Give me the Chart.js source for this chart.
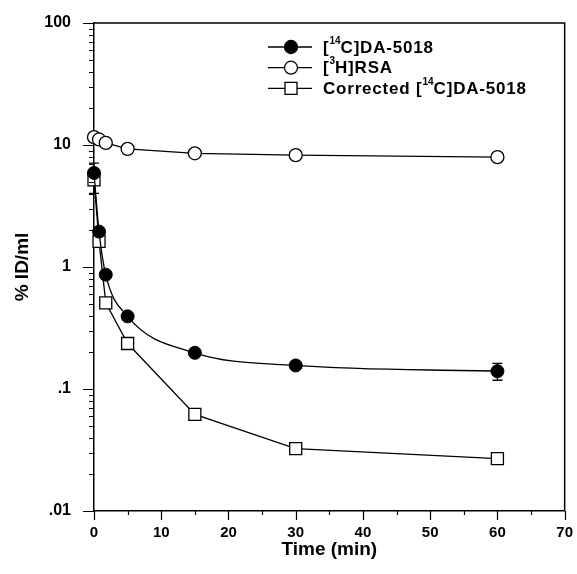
<!DOCTYPE html>
<html>
<head>
<meta charset="utf-8">
<script src="https://cdn.jsdelivr.net/npm/chart.js@4.4.1/dist/chart.umd.min.js"></script>
<style>
html, body { margin: 0; padding: 0; background: #fff; }
#wrap { width: 577px; height: 574px; position: relative; }
</style>
</head>
<body>
<div id="wrap"><canvas id="chart"></canvas></div>
<script>
// 図から読み取った値
const times = [0, 0.75, 1.75, 5, 15, 30, 60];
const da5018 = [5.9, 1.95, 0.865, 0.394, 0.198, 0.156, 0.14];
const da5018Err = [1.2, 0, 0, 0, 0, 0, 0.022];
const rsa = [11.6, 11.1, 10.4, 9.3, 8.55, 8.26, 7.95];
const corrected = [5.17, 1.62, 0.508, 0.236, 0.062, 0.0325, 0.0269];
const correctedErr = [1.15, 0, 0, 0, 0, 0, 0];

const xTicks = [0, 10, 20, 30, 40, 50, 60, 70];
const yDecades = [0.01, 0.1, 1, 10, 100];
const yLabels = ['.01', '.1', '1', '10', '100'];

const legendLabels = [
    [['[', 0], ['14', 1], ['C]DA-5018', 0]],
    [['[', 0], ['3', 1], ['H]RSA', 0]],
    [['Corrected [', 0], ['14', 1], ['C]DA-5018', 0]]
];

// 目盛り（主・副）
const xTickAll = [];
for (let v = 0; v <= 70; v += 5) xTickAll.push(v);
const yTickAll = [];
yDecades.forEach((d, i) => {
    yTickAll.push(d);
    if (i < yDecades.length - 1) {
        for (let k = 2; k <= 9; k++) yTickAll.push(+(d * k).toPrecision(3));
    }
});

const FONT = "'Liberation Sans', Arial, sans-serif";

/**
 * 誤差棒を描画
 */
const errorBars = {
    id: 'errorBars',
    beforeDatasetsDraw(chart) {
        const { ctx, scales: { x, y } } = chart;
        ctx.save();
        ctx.strokeStyle = '#000';
        ctx.lineWidth = 1.3;
        [[da5018, da5018Err], [corrected, correctedErr]].forEach(([vals, errs]) => {
            vals.forEach((v, i) => {
                const e = errs[i];
                if (!e) return;
                const px = x.getPixelForValue(times[i]);
                const top = y.getPixelForValue(v + e);
                const bot = y.getPixelForValue(v - e);
                ctx.beginPath();
                ctx.moveTo(px, top); ctx.lineTo(px, bot);
                ctx.moveTo(px - 5, top); ctx.lineTo(px + 5, top);
                ctx.moveTo(px - 5, bot); ctx.lineTo(px + 5, bot);
                ctx.stroke();
            });
        });
        ctx.restore();
    }
};

/**
 * 目盛り線と枠
 */
const frame = {
    id: 'frame',
    afterDraw(chart) {
        const { ctx, chartArea: a, scales: { x, y } } = chart;
        ctx.save();
        ctx.strokeStyle = '#000';
        ctx.lineWidth = 1.2;
        ctx.beginPath();
        y.ticks.forEach(t => {
            const py = Math.round(y.getPixelForValue(t.value)) + 0.5;
            const len = yDecades.includes(t.value) ? 11 : 5;
            ctx.moveTo(a.left - len, py);
            ctx.lineTo(a.left, py);
        });
        x.ticks.forEach(t => {
            const px = Math.round(x.getPixelForValue(t.value)) + 0.5;
            const len = t.value % 10 === 0 ? 9 : 4;
            ctx.moveTo(px, a.bottom);
            ctx.lineTo(px, a.bottom + len);
        });
        ctx.stroke();
        ctx.lineWidth = 1.5;
        ctx.beginPath();
        ctx.moveTo(a.left, a.top);
        ctx.lineTo(a.right, a.top);
        ctx.lineTo(a.right, a.bottom);
        ctx.stroke();
        ctx.restore();
    }
};

/**
 * 凡例（上付き文字つき）
 */
const legendBox = {
    id: 'legendBox',
    afterDraw(chart) {
        const { ctx } = chart;
        const x0 = 268, x1 = 312, xm = 291, xt = 323;
        ctx.save();
        ctx.strokeStyle = '#000';
        ctx.lineWidth = 1.3;
        ctx.textBaseline = 'middle';
        ctx.fillStyle = '#000';
        legendLabels.forEach((parts, i) => {
            const yy = 47 + i * 20.7;
            ctx.beginPath();
            ctx.moveTo(x0, yy); ctx.lineTo(x1, yy);
            ctx.stroke();
            ctx.beginPath();
            if (i === 2) {
                ctx.rect(xm - 6, yy - 6, 12, 12);
            } else {
                ctx.arc(xm, yy, 6.5, 0, Math.PI * 2);
            }
            ctx.fillStyle = i === 0 ? '#000' : '#fff';
            ctx.fill();
            ctx.stroke();
            ctx.fillStyle = '#000';
            let cx = xt;
            parts.forEach(([txt, sup]) => {
                ctx.font = sup ? `bold 10px ${FONT}` : `bold 17px ${FONT}`;
                ctx.letterSpacing = sup ? '0px' : '0.8px';
                ctx.fillText(txt, cx, sup ? yy - 6 : yy + 1);
                cx += ctx.measureText(txt).width;
            });
        });
        ctx.restore();
    }
};

const ctx = document.getElementById('chart').getContext('2d');
new Chart(ctx, {
    type: 'line',
    data: {
        datasets: [
            {
                label: '[14C]DA-5018',
                data: times.map((t, i) => ({ x: t, y: da5018[i] })),
                borderColor: '#000',
                borderWidth: 1.3,
                pointBackgroundColor: '#000',
                pointBorderColor: '#000',
                pointRadius: 6.5,
                pointBorderWidth: 1,
                cubicInterpolationMode: 'monotone',
                clip: false
            },
            {
                label: '[3H]RSA',
                data: times.map((t, i) => ({ x: t, y: rsa[i] })),
                borderColor: '#000',
                borderWidth: 1.3,
                pointBackgroundColor: '#fff',
                pointBorderColor: '#000',
                pointRadius: 6.5,
                pointBorderWidth: 1.3,
                tension: 0,
                clip: false
            },
            {
                label: 'Corrected [14C]DA-5018',
                data: times.map((t, i) => ({ x: t, y: corrected[i] })),
                borderColor: '#000',
                borderWidth: 1.3,
                pointStyle: 'rect',
                pointBackgroundColor: '#fff',
                pointBorderColor: '#000',
                pointRadius: 8.5,
                pointBorderWidth: 1.3,
                tension: 0,
                clip: false
            }
        ]
    },
    options: {
        responsive: true,
        maintainAspectRatio: false,
        animation: false,
        events: [],
        layout: { padding: { left: 0, right: 11, top: 23, bottom: 0 } },
        plugins: {
            legend: { display: false },
            tooltip: { enabled: false }
        },
        scales: {
            x: {
                type: 'linear',
                min: 0,
                max: 70,
                afterBuildTicks: s => { s.ticks = xTickAll.map(v => ({ value: v })); },
                afterFit: s => { s.height = 63; },
                grid: { drawOnChartArea: false, tickLength: 9, tickColor: 'rgba(0,0,0,0)' },
                border: { color: '#000', width: 1.5 },
                ticks: {
                    autoSkip: false,
                    maxRotation: 0,
                    padding: 4,
                    color: '#000',
                    font: { family: FONT, size: 15, weight: 'bold' },
                    callback: v => xTicks.includes(v) ? String(v) : ''
                },
                title: {
                    display: true,
                    text: 'Time (min)',
                    color: '#000',
                    font: { family: FONT, size: 19, weight: 'bold' },
                    padding: { top: 0, bottom: 13 }
                }
            },
            y: {
                type: 'logarithmic',
                min: 0.01,
                max: 100,
                afterBuildTicks: s => { s.ticks = yTickAll.map(v => ({ value: v })); },
                afterFit: s => { s.width = 94; },
                grid: { drawOnChartArea: false, tickLength: 11, tickColor: 'rgba(0,0,0,0)' },
                border: { color: '#000', width: 1.5 },
                ticks: {
                    autoSkip: false,
                    padding: 12,
                    color: '#000',
                    font: { family: FONT, size: 16, weight: 'bold' },
                    callback: v => {
                        const i = yDecades.indexOf(v);
                        return i >= 0 ? yLabels[i] : '';
                    }
                },
                title: {
                    display: true,
                    text: '% ID/ml',
                    color: '#000',
                    font: { family: FONT, size: 19, weight: 'bold' },
                    padding: { top: 11, bottom: 0 }
                }
            }
        }
    },
    plugins: [errorBars, frame, legendBox]
});
</script>
</body>
</html>
